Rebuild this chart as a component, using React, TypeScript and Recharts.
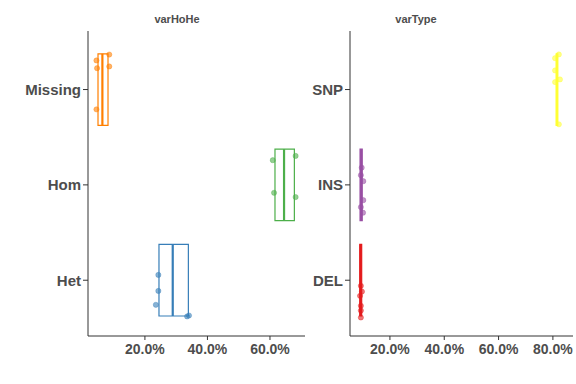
import React from 'react';
import { ComposedChart, XAxis, YAxis, Scatter, ReferenceArea, ReferenceLine } from 'recharts';

// ---- Panel 1: varHoHe ----
const hoheCategories = ['Het', 'Hom', 'Missing'];
const hoheColors = ['#377EB8', '#4DAF4A', '#FF7F00'];
const hoheQ1 = [24.5, 61.6, 5.0];
const hoheMedian = [28.9, 64.5, 6.4];
const hoheQ3 = [33.9, 67.8, 8.2];
const hohePointValues = [
  [24.3, 24.3, 23.5, 33.5, 34.1],
  [60.9, 68.2, 61.3, 68.2],
  [4.5, 8.6, 8.6, 4.7, 4.5],
];
const hohePointOffsets = [
  [0.056, -0.112, -0.258, -0.38, -0.37],
  [0.259, 0.304, -0.083, -0.128],
  [0.305, 0.367, 0.242, 0.224, -0.208],
];
const hoheTicks = [20, 40, 60];
const hoheDomain = [1.8, 71.2];

// ---- Panel 2: varType ----
const typeCategories = ['DEL', 'INS', 'SNP'];
const typeColors = ['#E41A1C', '#984EA3', '#FFFF33'];
const typeQ1 = [8.9, 9.0, 81.2];
const typeMedian = [9.2, 9.4, 81.5];
const typeQ3 = [9.6, 9.8, 81.8];
const typePointValues = [
  [9.3, 9.7, 9.0, 9.3, 9.3, 9.3],
  [9.6, 9.3, 10.2, 10.2, 9.3, 10.1],
  [80.8, 82.2, 80.8, 80.8, 82.6, 82.2],
];
const typePointOffsets = [
  [-0.059, -0.119, -0.164, -0.268, -0.318, -0.391],
  [0.181, 0.102, 0.039, -0.16, -0.233, -0.292],
  [0.329, 0.368, 0.2, 0.078, 0.106, -0.365],
];
const typeTicks = [20, 40, 60, 80];
const typeDomain = [5.3, 87.4];

const CAT_DOMAIN = [0.415, 3.614];
const BOX_HALF = 0.375;
const AXIS_COLOR = '#333333';
const TEXT_COLOR = '#4D4D4D';
const FONT = '"Liberation Sans", Arial, sans-serif';

type PanelProps = {
  categories: string[];
  colors: string[];
  q1: number[];
  median: number[];
  q3: number[];
  pointValues: number[][];
  pointOffsets: number[][];
  ticks: number[];
  domain: number[];
  width: number;
  yAxisWidth: number;
  rightMargin: number;
};

function Panel(p: PanelProps) {
  return (
    <ComposedChart
      width={p.width}
      height={384}
      margin={{ top: 31, right: p.rightMargin, bottom: 0, left: 0 }}
    >
      <XAxis
        type="number"
        dataKey="x"
        domain={p.domain}
        ticks={p.ticks}
        allowDataOverflow
        tickFormatter={(v: number) => v.toFixed(1) + '%'}
        height={48}
        stroke={AXIS_COLOR}
        tickSize={4}
        tickMargin={4}
        tick={{ fill: TEXT_COLOR, fontSize: 14, fontWeight: 'bold', fontFamily: FONT }}
        tickLine={{ stroke: AXIS_COLOR }}
        axisLine={{ stroke: AXIS_COLOR }}
      />
      <YAxis
        type="number"
        dataKey="y"
        domain={CAT_DOMAIN}
        ticks={[1, 2, 3]}
        allowDataOverflow
        tickFormatter={(v: number) => p.categories[Math.round(v) - 1]}
        width={p.yAxisWidth}
        stroke={AXIS_COLOR}
        tickSize={5}
        tick={{ fill: TEXT_COLOR, fontSize: 15, fontWeight: 'bold', fontFamily: FONT }}
        tickLine={{ stroke: AXIS_COLOR }}
        axisLine={{ stroke: AXIS_COLOR }}
      />
      {p.categories.map((c, i) => (
        <ReferenceArea
          key={'box' + c}
          x1={p.q1[i]}
          x2={p.q3[i]}
          y1={i + 1 - BOX_HALF}
          y2={i + 1 + BOX_HALF}
          fill="#FFFFFF"
          fillOpacity={0}
          stroke={p.colors[i]}
          strokeWidth={1.2}
          ifOverflow="extendDomain"
        />
      ))}
      {p.categories.map((c, i) => (
        <ReferenceLine
          key={'med' + c}
          segment={[
            { x: p.median[i], y: i + 1 - BOX_HALF },
            { x: p.median[i], y: i + 1 + BOX_HALF },
          ]}
          stroke={p.colors[i]}
          strokeWidth={2.2}
        />
      ))}
      {p.categories.map((c, i) => (
        <Scatter
          key={'pts' + c}
          data={p.pointValues[i].map((v, j) => ({ x: v, y: i + 1 + p.pointOffsets[i][j] }))}
          isAnimationActive={false}
          shape={(props: any) => (
            <circle
              cx={props.cx}
              cy={props.cy}
              r={2.6}
              fill={p.colors[i]}
              fillOpacity={0.6}
              stroke={p.colors[i]}
              strokeOpacity={0.6}
              strokeWidth={0.6}
            />
          )}
        />
      ))}
    </ComposedChart>
  );
}

export default function App() {
  return (
    <div style={{ position: 'absolute', left: 0, top: 0, width: 576, height: 384, background: '#FFFFFF', fontFamily: FONT }}>
      <div style={{ position: 'absolute', left: 0, top: 0 }}>
        <Panel
          categories={hoheCategories}
          colors={hoheColors}
          q1={hoheQ1}
          median={hoheMedian}
          q3={hoheQ3}
          pointValues={hohePointValues}
          pointOffsets={hohePointOffsets}
          ticks={hoheTicks}
          domain={hoheDomain}
          width={310}
          yAxisWidth={88}
          rightMargin={5}
        />
      </div>
      <div style={{ position: 'absolute', left: 310, top: 0 }}>
        <Panel
          categories={typeCategories}
          colors={typeColors}
          q1={typeQ1}
          median={typeMedian}
          q3={typeQ3}
          pointValues={typePointValues}
          pointOffsets={typePointOffsets}
          ticks={typeTicks}
          domain={typeDomain}
          width={266}
          yAxisWidth={40}
          rightMargin={3}
        />
      </div>
      <div style={{ position: 'absolute', left: 137, top: 13, width: 80, textAlign: 'center', fontSize: 11, fontWeight: 'bold', color: TEXT_COLOR }}>varHoHe</div>
      <div style={{ position: 'absolute', left: 376, top: 13, width: 80, textAlign: 'center', fontSize: 11, fontWeight: 'bold', color: TEXT_COLOR }}>varType</div>
    </div>
  );
}
